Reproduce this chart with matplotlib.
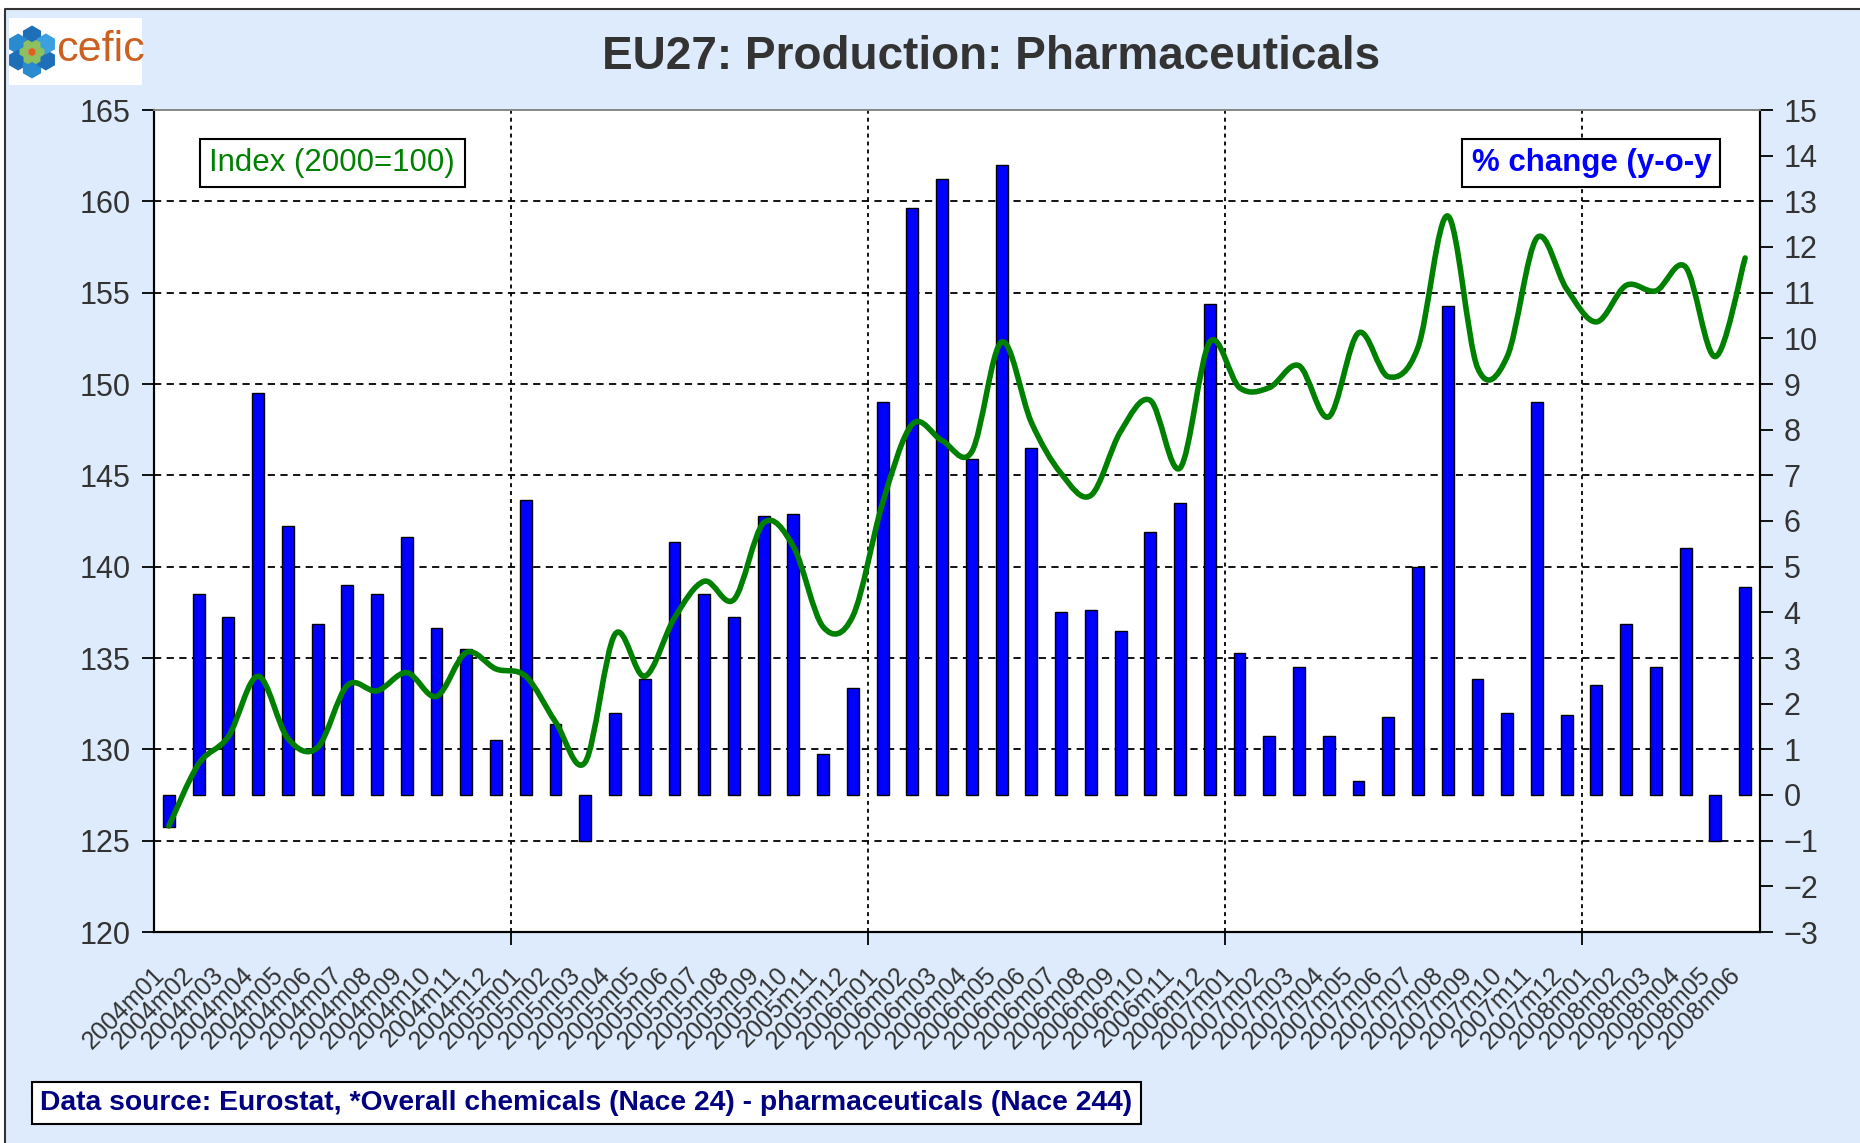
import numpy as np
import matplotlib
matplotlib.use("Agg")
import matplotlib.pyplot as plt
import matplotlib.transforms as mtransforms
from matplotlib.path import Path
from matplotlib.patches import PathPatch, Rectangle, RegularPolygon
from matplotlib.lines import Line2D

plt.rcParams['font.family'] = ['Liberation Sans', 'DejaVu Sans']

# ---------------- data ----------------
years = ["2004", "2005", "2006", "2007", "2008"]
months = [f"m{m:02d}" for m in range(1, 13)]
categories = [y + m for y in years for m in months][:54]

pct_change = [-0.7, 4.4, 3.9, 8.8, 5.9, 3.75, 4.6, 4.4, 5.65, 3.65, 3.2, 1.2,
              6.45, 1.55, -1.0, 1.8, 2.55, 5.55, 4.4, 3.9, 6.1, 6.15, 0.9, 2.35,
              8.6, 12.85, 13.5, 7.35, 13.8, 7.6, 4.0, 4.05, 3.6, 5.75, 6.4, 10.75,
              3.1, 1.3, 2.8, 1.3, 0.3, 1.7, 5.0, 10.7, 2.55, 1.8, 8.6, 1.75,
              2.4, 3.75, 2.8, 5.4, -1.0, 4.55]

index_2000 = [125.8, 129.2, 130.7, 134.0, 130.6, 130.1, 133.5, 133.2, 134.2, 132.9, 135.3, 134.4,
              134.0, 131.5, 129.3, 136.3, 134.0, 137.2, 139.2, 138.2, 142.4, 141.1, 136.7, 137.3,
              143.5, 147.8, 146.9, 146.3, 152.3, 147.9, 145.1, 143.9, 147.4, 149.1, 145.4, 152.3,
              149.8, 149.8, 151.0, 148.2, 152.8, 150.4, 152.0, 159.2, 150.9, 151.5, 158.0, 155.2,
              153.4, 155.4, 155.1, 156.4, 151.5, 156.9]

left_ticks = [120, 125, 130, 135, 140, 145, 150, 155, 160, 165]
right_ticks = list(range(-3, 16))

title = "EU27: Production: Pharmaceuticals"
label_index = "Index (2000=100)"
label_pct = "% change (y-o-y"
footer = "Data source: Eurostat, *Overall chemicals (Nace 24) - pharmaceuticals (Nace 244)"

# ---------------- figure ----------------
W, H = 1860, 1143
bg = '#DDEBFC'
fig = plt.figure(figsize=(W / 100, H / 100), dpi=100, facecolor=bg)

# white outer margin + dark frame on top/left
fig.patches.append(Rectangle((0, 0), 5 / W, 1, transform=fig.transFigure, fc='white', ec='none', zorder=0))
fig.patches.append(Rectangle((0, 1 - 9 / H), 1, 9 / H, transform=fig.transFigure, fc='white', ec='none', zorder=0))
fig.lines.append(Line2D([5 / W, 5 / W, 1], [0, 1 - 9 / H, 1 - 9 / H], transform=fig.transFigure,
                        color='#333333', lw=1.5))

L, R, T, B = 154, 1760, 110, 932
ax_bar = fig.add_axes([L / W, 1 - B / H, (R - L) / W, (B - T) / H])
ax_line = ax_bar.twinx()

x = np.arange(len(categories))

# bars (right axis)
ax_bar.set_facecolor('white')
ax_bar.bar(x, pct_change, width=0.4, color='#0000FF', edgecolor='black', linewidth=1.0, zorder=3)
ax_bar.set_ylim(-3, 15)
ax_bar.set_xlim(-0.5, len(categories) - 0.5)

# gridlines
for yv in right_ticks[::2]:
    if -3 < yv < 15:
        ax_bar.axhline(yv, color='black', lw=1.3, ls=(0, (4, 3)), zorder=1)
for xb in [11.5, 23.5, 35.5, 47.5]:
    ax_bar.axvline(xb, color='black', lw=1.3, ls=(0, (2.2, 2.2)), zorder=1)

# line (left axis) - smoothed Bezier through the monthly points
ax_line.set_zorder(ax_bar.get_zorder() + 1)
ax_line.patch.set_visible(False)
ax_line.set_ylim(120, 165)
pts = np.column_stack([x, index_2000]).astype(float)
n = len(pts)
verts = [pts[0]]
codes = [Path.MOVETO]
for i in range(n - 1):
    p0 = pts[max(i - 1, 0)]
    p1 = pts[i]
    p2 = pts[i + 1]
    p3 = pts[min(i + 2, n - 1)]
    c1 = p1 + (p2 - p0) / 6.0
    c2 = p2 - (p3 - p1) / 6.0
    verts += [c1, c2, p2]
    codes += [Path.CURVE4] * 3
ax_line.add_patch(PathPatch(Path(verts, codes), fill=False, edgecolor='#008000', lw=4.0,
                            capstyle='round', joinstyle='round', zorder=5))

# y axes
ax_line.yaxis.tick_left()
ax_line.yaxis.set_label_position('left')
ax_bar.yaxis.tick_right()
ax_line.set_yticks(left_ticks)
ax_bar.set_yticks(right_ticks)
ax_line.tick_params(axis='y', direction='out', length=9, width=1.3, labelsize=22,
                    labelcolor='#333333', pad=8)
ax_bar.tick_params(axis='y', direction='out', length=9, width=1.3, labelsize=22,
                   labelcolor='#333333', pad=8)

# x axis
ax_bar.set_xticks(x)
ax_bar.set_xticklabels(categories, rotation=45, ha='right', va='top', rotation_mode='anchor',
                       fontsize=18, color='#333333')
ax_bar.tick_params(axis='x', which='major', length=0, pad=22)
ax_bar.set_xticks([11.5, 23.5, 35.5, 47.5], minor=True)
ax_bar.tick_params(axis='x', which='minor', direction='out', length=9, width=1.3, color='black')
shift = mtransforms.ScaledTranslation(-17 / 100, 0, fig.dpi_scale_trans)
for lab in ax_bar.get_xticklabels():
    lab.set_transform(lab.get_transform() + shift)

for a in (ax_bar, ax_line):
    a.spines['top'].set_color('#888888')
    a.spines['top'].set_linewidth(1.3)
    for s in ('left', 'right', 'bottom'):
        a.spines[s].set_color('black')
        a.spines[s].set_linewidth(1.5)

# series labels
ax_bar.text(0.111, 0.9355, label_index, transform=ax_bar.transAxes, ha='center', va='center',
            fontsize=22.5, color='#008000', zorder=10,
            bbox=dict(boxstyle='square,pad=0.3', fc='white', ec='black', lw=1.5))
ax_line.text(0.895, 0.9355, label_pct, transform=ax_bar.transAxes, ha='center', va='center',
             fontsize=22.5, color='#0000FF', fontweight='bold', zorder=10,
             bbox=dict(boxstyle='square,pad=0.3', fc='white', ec='black', lw=1.5))

# title
fig.text(991 / W, 1 - 57 / H, title, ha='center', va='center', fontsize=33,
         fontweight='bold', color='#333333')

# footer
fig.text(40 / W, 1 - 1103 / H, footer, ha='left', va='center', fontsize=20.3, fontweight='bold',
         color='#000080',
         bbox=dict(boxstyle='square,pad=0.3', fc='white', ec='black', lw=1.5))

# logo
lax = fig.add_axes([9 / W, 1 - 85 / H, 133 / W, 67 / H])
lax.set_xlim(0, 133)
lax.set_ylim(0, 67)
lax.set_facecolor('white')
for s in lax.spines.values():
    s.set_visible(False)
lax.set_xticks([])
lax.set_yticks([])
cx, cy = 23, 33
outer = ['#1F6FB8', '#2A8AD0', '#1F6FB8', '#2A8AD0', '#1F6FB8', '#3AA0E0']
for k in range(6):
    ang = np.pi / 2 + k * np.pi / 3
    lax.add_patch(RegularPolygon((cx + 16 * np.cos(ang), cy + 16 * np.sin(ang)), 6, radius=10.5,
                                 fc=outer[k], ec='none'))
for k in range(6):
    ang = k * np.pi / 3
    lax.add_patch(RegularPolygon((cx + 8 * np.cos(ang), cy + 8 * np.sin(ang)), 6, radius=5.2,
                                 fc='#8CC060', ec='none'))
lax.add_patch(RegularPolygon((cx, cy), 6, radius=4.3, fc='#E06020', ec='none'))
lax.text(47, 35, "cefic", ha='left', va='center', fontsize=31, color='#CC6020')

fig.savefig('out.png', dpi=100, facecolor=bg)
